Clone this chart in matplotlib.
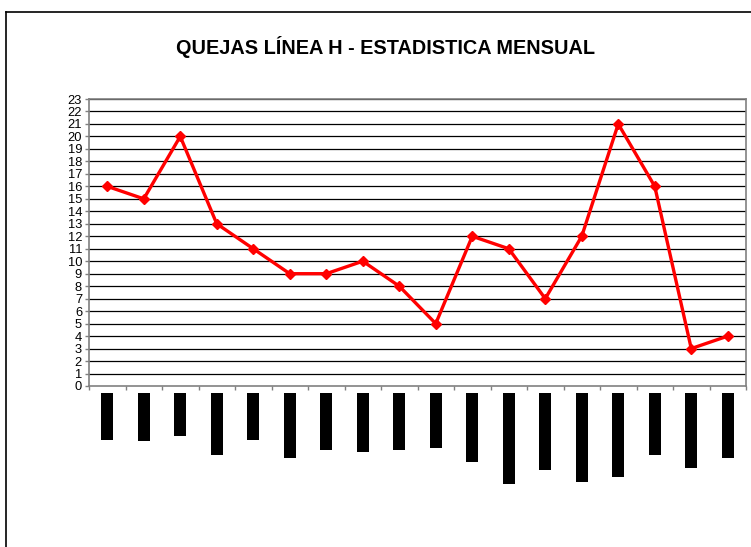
import matplotlib
matplotlib.use("Agg")
import matplotlib.pyplot as plt
from matplotlib.lines import Line2D

plt.rcParams['font.family'] = ['Liberation Sans', 'DejaVu Sans']

title = "QUEJAS LÍNEA H - ESTADISTICA MENSUAL"
quejas = [16, 15, 20, 13, 11, 9, 9, 10, 8, 5, 12, 11, 7, 12, 21, 16, 3, 4]
# category labels appear as solid black blocks (illegible); their relative lengths
label_lengths = [47, 48, 43, 62, 47, 65, 57, 59, 57, 55, 69, 91, 77, 89, 84, 62, 75, 65]
y_ticks = list(range(0, 24))

W, H = 751, 547
fig = plt.figure(figsize=(W / 100, H / 100), dpi=100)

# outer chart border (top and left visible)
fig.add_artist(Line2D([6 / W, 1], [1 - 12 / H, 1 - 12 / H], color='black', lw=1.2, transform=fig.transFigure))
fig.add_artist(Line2D([6 / W, 6 / W], [0, 1 - 12 / H], color='black', lw=1.2, transform=fig.transFigure))

fig.text(385 / W, 1 - 47 / H, title, ha='center', va='center', fontsize=14.3, fontweight='bold')

left, right, top, bottom = 89, 746, 99, 386
ax = fig.add_axes([left / W, 1 - bottom / H, (right - left) / W, (bottom - top) / H])
n = len(quejas)
x = list(range(n))
ax.set_xlim(-0.5, n - 0.5)
ax.set_ylim(0, 23)
ax.set_yticks(y_ticks)
ax.set_yticklabels([str(t) for t in y_ticks], fontsize=9.3)
ax.set_xticks([i - 0.5 for i in range(n + 1)])
ax.set_xticklabels([])
ax.tick_params(axis='both', direction='out', length=3, color='#808080', width=1, pad=2)
for t in y_ticks[1:]:
    ax.axhline(t, color='#000000', lw=0.9, zorder=1)
for s in ax.spines.values():
    s.set_color('#808080')
    s.set_linewidth(1.2)
ax.plot(x, quejas, color='#ff0000', lw=2.4, marker='D', markersize=5.5,
        markerfacecolor='#ff0000', markeredgecolor='#ff0000', zorder=3)

# illegible category labels drawn as black blocks
lab_top = 393
lab_h = 100
ax2 = fig.add_axes([left / W, 1 - (lab_top + lab_h) / H, (right - left) / W, lab_h / H])
ax2.set_xlim(-0.5, n - 0.5)
ax2.set_ylim(lab_h, 0)
ax2.bar(x, label_lengths, width=0.34, color='black', bottom=0)
ax2.axis('off')

fig.savefig("out.png", dpi=100)
